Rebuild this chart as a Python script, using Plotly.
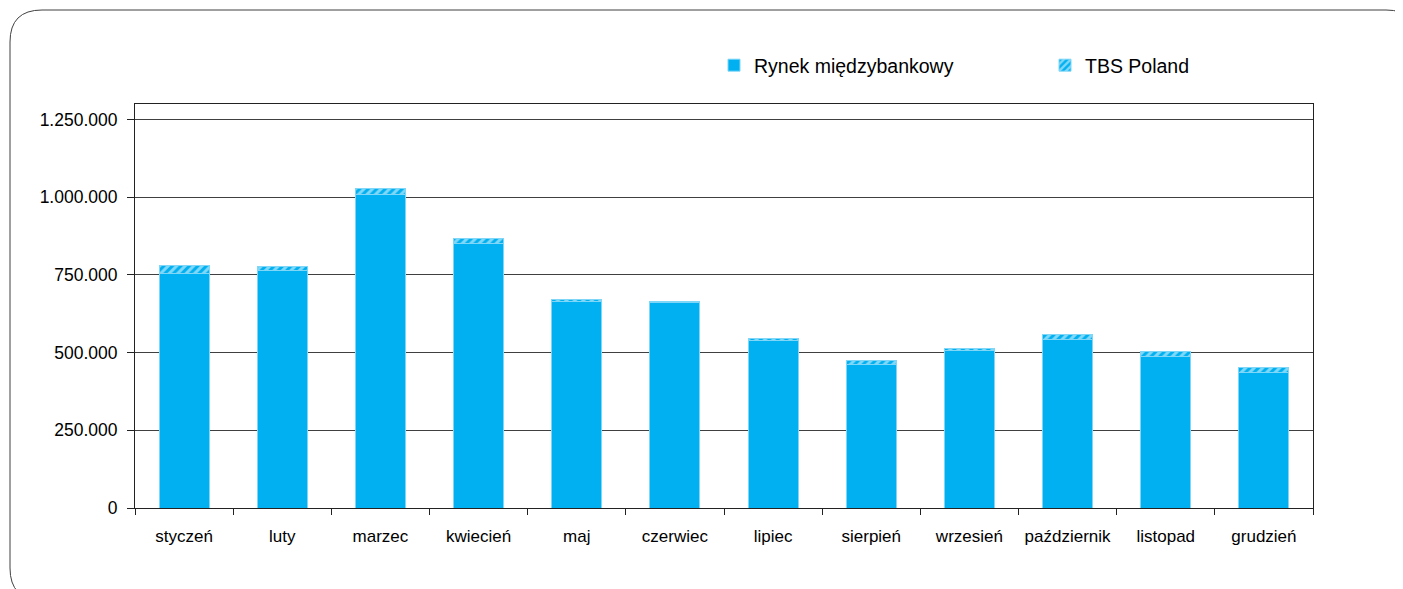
import plotly.graph_objects as go

months = ["styczeń", "luty", "marzec", "kwiecień", "maj", "czerwiec", "lipiec",
          "sierpień", "wrzesień", "październik", "listopad", "grudzień"]
rynek = [756000, 763000, 1008000, 850000, 663000, 661500, 538000, 462000, 506000, 541000, 487000, 436000]
tbs = [25000, 14000, 20000, 17000, 9000, 1500, 6000, 12000, 6000, 17000, 17000, 17000]
y_ticks = [0, 250000, 500000, 750000, 1000000, 1250000]

OFF = 8  # page body margin
W, H = 1403 - OFF, 589 - OFF
L, R, T, B = 135 - OFF, 90, 104 - OFF, 81
pw, ph = W - L - R, H - T - B

def px(x):
    return (x - OFF - L) / pw

def py(y):
    return (H - B - (y - OFF)) / ph

BLUE = "#00B0F0"
FONT = "Liberation Sans, Arial, sans-serif"

fig = go.Figure()
fig.add_trace(go.Bar(
    x=months, y=rynek, name="Rynek międzybankowy",
    marker=dict(color=BLUE, line=dict(color="#7fd6f7", width=1)),
    legend="legend", showlegend=True,
))
fig.add_trace(go.Bar(
    x=months, y=tbs, name="TBS Poland",
    marker=dict(color=BLUE, line=dict(color="#7fd6f7", width=1),
                pattern=dict(shape="/", fgcolor="white", bgcolor=BLUE,
                             size=6, solidity=0.5, fillmode="overlay")),
    legend="legend2", showlegend=True,
))

# rounded frame around the chart
x0, x1, y0, y1, r = 10, 1418, 10, 600, 32
path = (
    f"M {px(x0)},{py(y0 + r)} "
    f"Q {px(x0)},{py(y0)} {px(x0 + r)},{py(y0)} "
    f"L {px(x1 - r)},{py(y0)} "
    f"Q {px(x1)},{py(y0)} {px(x1)},{py(y0 + r)} "
    f"L {px(x1)},{py(y1 - r)} "
    f"Q {px(x1)},{py(y1)} {px(x1 - r)},{py(y1)} "
    f"L {px(x0 + r)},{py(y1)} "
    f"Q {px(x0)},{py(y1)} {px(x0)},{py(y1 - r)} Z"
)
fig.add_shape(type="path", path=path, xref="paper", yref="paper",
              line=dict(color="#404040", width=1), fillcolor="rgba(0,0,0,0)",
              layer="below")

fig.update_layout(
    width=W, height=H,
    margin=dict(l=L, r=R, t=T, b=B, pad=0),
    barmode="stack",
    bargap=0.49,
    showlegend=True,
    plot_bgcolor="white",
    paper_bgcolor="white",
    separators=",.",
    font=dict(family=FONT, size=17, color="#000000"),
    legend=dict(orientation="h", x=px(714), y=py(46), xanchor="left", yanchor="top",
                font=dict(family=FONT, size=19.5, color="#000000"),
                bgcolor="rgba(0,0,0,0)", itemwidth=30),
    legend2=dict(orientation="h", x=px(1045), y=py(46), xanchor="left", yanchor="top",
                 font=dict(family=FONT, size=19.5, color="#000000"),
                 bgcolor="rgba(0,0,0,0)", itemwidth=30),
    xaxis=dict(
        type="category", showline=True, linecolor="#222222", linewidth=1,
        mirror=True, ticks="outside", ticklen=6, tickcolor="#222222",
        tickson="boundaries", showgrid=False, ticklabelstandoff=13,
        tickfont=dict(family=FONT, size=17, color="#000000"),
    ),
    yaxis=dict(
        range=[0, 1300000], tickvals=y_ticks, tickformat=",d",
        showline=True, linecolor="#222222", linewidth=1, mirror=True,
        ticks="outside", ticklen=7, tickcolor="#222222", ticklabelstandoff=6,
        showgrid=True, gridcolor="#404040", gridwidth=1,
        zeroline=False,
        tickfont=dict(family=FONT, size=17.5, color="#000000"),
    ),
)

fig.write_html("out.html")
